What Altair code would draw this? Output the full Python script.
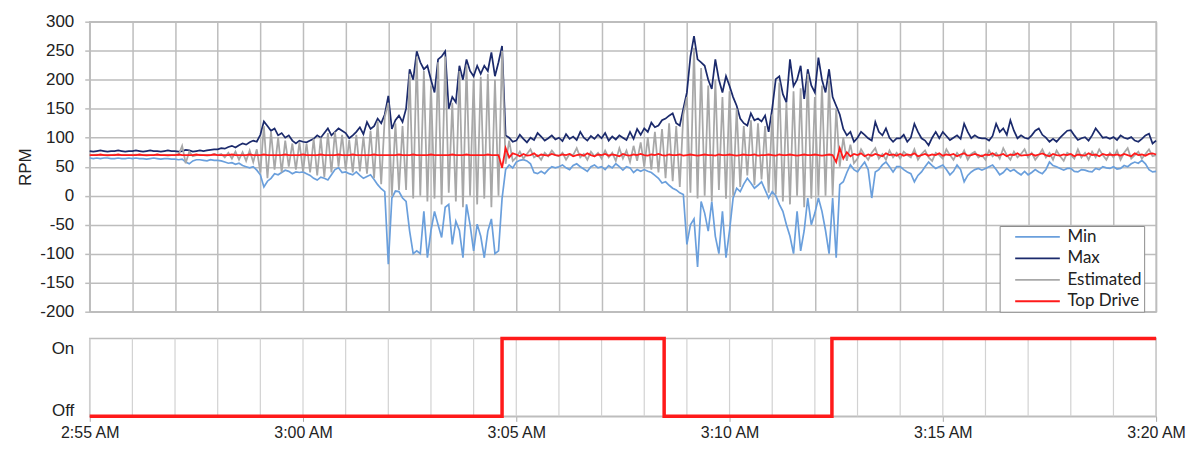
import altair as alt
import pandas as pd

# ---------------- data (5-second samples, 2:55:00 -> 3:20:00) ----------------
START = "2024-01-01 02:55:00"
END = "2024-01-01 03:20:00"

max_rpm = [
    77, 76, 77, 78, 77, 76, 77, 77, 78, 77, 76, 77,
    77, 78, 77, 76, 77, 78, 77, 77, 76, 77, 78, 77,
    77, 76, 77, 79, 78, 76, 77, 78, 77, 78, 79, 80,
    80, 82, 81, 84, 86, 83, 87, 90, 88, 92, 95, 93,
    105, 128, 120, 112, 116, 104, 108, 100, 104, 95, 90, 95,
    93, 92, 95, 98, 104, 100, 108, 116, 104, 110, 116, 112,
    108, 99, 104, 110, 118, 106, 127, 115, 120, 133, 125, 140,
    172, 115, 130, 138, 127, 150, 218, 200, 249, 230, 218, 224,
    200, 178, 235, 240, 249, 150, 170, 161, 224, 200, 235, 215,
    206, 224, 210, 224, 215, 247, 206, 230, 258, 104, 100, 93,
    95, 105, 98, 92, 100, 96, 108, 102, 95, 99, 104, 97,
    100, 94, 106, 98, 102, 96, 110, 100, 95, 103, 98, 105,
    99, 108, 95, 102, 97, 104, 100, 96, 110, 98, 115, 105,
    116, 110, 126, 118, 121, 130, 133, 138, 142, 125, 121, 150,
    178, 240, 275, 235, 230, 224, 200, 184, 235, 200, 178, 206,
    189, 170, 155, 133, 125, 121, 142, 130, 133, 128, 138, 110,
    150, 201, 206, 175, 161, 235, 189, 200, 224, 167, 218, 190,
    178, 238, 200, 178, 218, 170, 155, 140, 115, 104, 110, 93,
    100, 110, 105, 99, 95, 127, 110, 104, 116, 100, 93, 99,
    99, 105, 93, 100, 124, 110, 99, 95, 87, 100, 110, 99,
    110, 103, 96, 100, 104, 98, 124, 110, 99, 104, 100, 99,
    99, 95, 103, 124, 110, 116, 105, 130, 112, 99, 104, 100,
    98, 104, 112, 116, 105, 100, 93, 98, 93, 100, 106, 112,
    113, 104, 96, 99, 101, 95, 104, 116, 108, 100, 101, 98,
    101, 96, 104, 100, 98, 101, 95, 93, 98, 104, 107, 90,
    95,
]

min_rpm = [
    65, 64, 65, 64, 65, 65, 64, 64, 65, 64, 64, 65,
    64, 65, 64, 64, 63, 64, 65, 64, 63, 64, 64, 63,
    63, 62, 63, 58, 55, 60, 62, 62, 61, 60, 62, 61,
    61, 60, 58, 56, 57, 54, 56, 52, 50, 48, 50, 44,
    36, 15, 25, 30, 38, 36, 40, 44, 42, 38, 41, 40,
    41, 38, 35, 30, 27, 32, 30, 27, 36, 45, 48, 40,
    41, 38, 36, 41, 35, 30, 33, 36, 28, 19, 12, 7,
    -118, -4, 8, 7, -4, -10, -61, -100, -95, -100, -27, -107,
    -60, -27, -50, -72, -20, -15, -84, -44, -60, -107, -15, -50,
    -95, -49, -70, -107, -61, -40, -100, -95, -5, 45, 53, 48,
    58, 61, 62, 60, 55, 40, 38, 42, 38, 45, 50, 48,
    50, 53, 48, 45, 52, 55, 50, 46, 42, 50, 53, 48,
    50, 45, 52, 48, 55, 50, 44, 50, 48, 40, 45, 42,
    45, 42, 40, 35, 30, 22, 24, 18, 13, 10, 5, 2,
    -84, -50, -40, -123, -10, -30, -61, -10, -70, -100, -27, -107,
    -60, -4, 13, 7, 20, 30, 22, 13, 18, 24, 10, -4,
    7, 0, -15, -27, -50, -70, -100, -27, -95, -60, -4, -50,
    -30, -4, -27, -60, -100, -4, -107, 19, 24, 40, 53, 45,
    41, 50, 58, 45, -4, 41, 45, 53, 58, 50, 41, 50,
    50, 45, 41, 38, 24, 35, 41, 50, 58, 52, 47, 50,
    53, 45, 36, 42, 53, 45, 24, 35, 41, 45, 47, 44,
    47, 50, 53, 45, 36, 40, 47, 42, 45, 40, 36, 42,
    36, 40, 45, 41, 38, 45, 58, 52, 50, 47, 44, 47,
    47, 42, 41, 45, 44, 42, 41, 47, 45, 50, 48, 47,
    50, 46, 47, 52, 50, 55, 58, 56, 61, 55, 45, 41,
    42,
]

est_rpm = [
    70, 70, 71, 70, 70, 69, 70, 71, 70, 70, 70, 70,
    70, 71, 70, 70, 69, 70, 70, 71, 70, 70, 69, 70,
    70, 70, 86, 56, 76, 68, 70, 71, 70, 69, 70, 72,
    70, 72, 66, 74, 64, 76, 62, 75, 60, 78, 58, 80,
    40, 120, 30, 110, 45, 100, 40, 95, 50, 90, 45, 92,
    42, 90, 40, 98, 35, 100, 32, 108, 40, 110, 50, 105,
    45, 96, 40, 105, 42, 102, 38, 112, 30, 128, 20, 135,
    160, 0, 125, 10, 120, 10, 210, -5, 240, 0, 215, -10,
    190, -5, 230, -15, 240, 5, 160, -10, 215, -20, 225, 0,
    200, -15, 205, -5, 210, -20, 200, 0, 250, 55, 95, 60,
    66, 76, 64, 72, 80, 66, 70, 62, 74, 68, 78, 70,
    68, 74, 62, 72, 70, 82, 66, 72, 62, 76, 68, 74,
    64, 78, 66, 74, 60, 82, 64, 78, 58, 86, 60, 92,
    50, 100, 45, 110, 40, 115, 30, 125, 25, 120, 15, 140,
    170, 5, 255, -5, 220, 0, 190, -10, 200, 10, 170, -5,
    180, 0, 150, 15, 120, 35, 130, 18, 125, 28, 120, 5,
    140, 2, 195, -10, 160, -15, 180, 0, 185, -20, 210, -5,
    170, 0, 190, 0, 200, 0, 150, 50, 100, 60, 88, 56,
    64, 80, 70, 62, 74, 82, 64, 72, 62, 78, 66, 74,
    64, 76, 70, 66, 80, 62, 72, 78, 66, 60, 74, 70,
    64, 80, 70, 62, 74, 66, 78, 62, 72, 76, 66, 70,
    62, 78, 68, 74, 64, 82, 70, 62, 76, 66, 72, 80,
    66, 74, 62, 70, 80, 66, 74, 62, 78, 68, 60, 74,
    70, 64, 80, 66, 74, 62, 76, 66, 80, 70, 62, 74,
    66, 78, 62, 74, 82, 64, 70, 76, 64, 72, 80, 68,
    70,
]

top_drive_rpm = [
    70, 70, 70, 71, 70, 70, 70, 70, 71, 70, 70, 70,
    70, 70, 71, 70, 70, 70, 70, 71, 70, 70, 70, 70,
    70, 71, 70, 70, 70, 70, 71, 70, 70, 70, 70, 71,
    70, 70, 70, 70, 71, 70, 70, 70, 70, 71, 70, 70,
    70, 71, 70, 70, 70, 70, 70, 71, 70, 70, 70, 70,
    71, 70, 70, 70, 70, 71, 70, 70, 70, 70, 71, 70,
    70, 70, 71, 70, 70, 70, 70, 70, 71, 70, 70, 70,
    70, 70, 70, 71, 70, 70, 70, 71, 70, 70, 70, 70,
    71, 70, 70, 70, 70, 70, 71, 70, 70, 70, 71, 70,
    70, 70, 70, 70, 71, 70, 70, 70, 48, 82, 66, 73,
    71, 68, 72, 69, 70, 73, 68, 71, 70, 69, 72, 70,
    69, 71, 70, 72, 68, 70, 71, 69, 73, 70, 68, 71,
    70, 72, 69, 71, 70, 68, 72, 70, 69, 71, 70, 72,
    70, 69, 71, 70, 72, 70, 69, 71, 70, 70, 71, 69,
    70, 71, 70, 69, 70, 71, 70, 70, 69, 71, 70, 70,
    71, 70, 69, 70, 71, 70, 70, 71, 69, 70, 70, 71,
    70, 69, 71, 70, 70, 71, 70, 69, 70, 71, 70, 70,
    71, 70, 69, 70, 71, 70, 58, 82, 64, 75, 68, 72,
    70, 73, 68, 71, 69, 72, 70, 68, 73, 70, 71, 69,
    72, 69, 71, 70, 73, 68, 70, 72, 69, 71, 70, 73,
    69, 71, 70, 72, 68, 71, 73, 69, 70, 72, 70, 68,
    71, 70, 73, 69, 70, 72, 68, 71, 70, 73, 69, 70,
    70, 72, 69, 71, 73, 70, 68, 72, 70, 69, 71, 70,
    72, 68, 71, 70, 69, 73, 70, 71, 68, 72, 70, 71,
    70, 71, 69, 72, 70, 68, 73, 70, 71, 69, 72, 73,
    71,
]

series_names = ["Min", "Max", "Estimated", "Top Drive"]
series_colors = ["#6a9fdc", "#1b2a6c", "#a8a8a8", "#ff1a1a"]
series_widths = [1.7, 1.8, 2.8, 2.0]

state_times = ["2024-01-01 02:55:00", "2024-01-01 03:04:40",
               "2024-01-01 03:08:28", "2024-01-01 03:12:24",
               "2024-01-01 03:20:00"]
state_values = [0, 1, 0, 1, 1]
state_labels = ["Off", "On"]

# ---------------- tables ----------------
times = pd.date_range(START, END, freq="5s")
for arr in (max_rpm, min_rpm, est_rpm, top_drive_rpm):
    assert len(arr) == len(times), len(arr)

frames = []
for name, vals in zip(series_names, [min_rpm, max_rpm, est_rpm, top_drive_rpm]):
    frames.append(pd.DataFrame({"time": times.strftime("%Y-%m-%dT%H:%M:%S"),
                                "series": name, "rpm": vals}))
df = pd.concat(frames, ignore_index=True)

state_df = pd.DataFrame({"time": [t.replace(" ", "T") for t in state_times],
                         "state": state_values})

minute_df = pd.DataFrame({"time": pd.date_range(START, END, freq="1min")
                          .strftime("%Y-%m-%dT%H:%M:%S")})

# ---------------- styling ----------------
FONT = "Liberation Sans"
GRID = "#bdbdbd"
W = 1070


def dt(h, m):
    return alt.DateTime(year=2024, month=1, date=1, hours=h, minutes=m)


minute_ticks = [dt(2 + (55 + k) // 60, (55 + k) % 60) for k in range(26)]
five_ticks = [dt(2 + (55 + k) // 60, (55 + k) % 60) for k in range(0, 26, 5)]
x_scale = alt.Scale(domain=[dt(2, 55), dt(3, 20)], nice=False)

top = alt.Chart(df).mark_line().encode(
    x=alt.X("time:T", scale=x_scale,
            axis=alt.Axis(title=None, labels=False, ticks=False, domain=False,
                          grid=True, gridColor=GRID, gridWidth=1.5,
                          values=minute_ticks)),
    y=alt.Y("rpm:Q", scale=alt.Scale(domain=[-200, 300], nice=False),
            axis=alt.Axis(title="RPM", values=list(range(-200, 301, 50)),
                          labelExpr="'' + datum.value",
                          grid=True, gridColor=GRID, gridWidth=1.5,
                          domain=False, tickColor=GRID, tickWidth=1.5, tickSize=5,
                          labelPadding=11, titlePadding=5)),
    color=alt.Color("series:N",
                    scale=alt.Scale(domain=series_names, range=series_colors),
                    legend=alt.Legend(title=None, orient="none", legendX=913, legendY=205,
                                      direction="vertical", symbolType="M-2.8,0H2.8",
                                      symbolSize=256, symbolStrokeWidth=2,
                                      labelFont="Lato", labelFontSize=17,
                                      labelColor="#222", fillColor="white",
                                      strokeColor="#8c8c8c", padding=2,
                                      symbolOffset=27, labelOffset=21, rowPadding=4.5)),
    strokeWidth=alt.StrokeWidth("series:N",
                                scale=alt.Scale(domain=series_names, range=series_widths),
                                legend=None),
).properties(width=W, height=291)

label_expr = ("datum.value > 0.5 ? '%s' : '%s'" % (state_labels[1], state_labels[0]))

minute_grid = alt.Chart(minute_df).mark_rule(color="#d2d2d2", strokeWidth=1.2).encode(
    x=alt.X("time:T", scale=x_scale)
)

state_line = alt.Chart(state_df).mark_line(interpolate="step-after", color="#ff1a1a",
                                           strokeWidth=3.5).encode(
    x=alt.X("time:T", scale=x_scale,
            axis=alt.Axis(title=None, grid=False,
                          values=five_ticks, labelOverlap=False, labelFlush=False,
                          format="%-I:%M %p",
                          domainColor=GRID, domainWidth=1.5, tickColor="#a8a8a8", tickSize=5,
                          labelPadding=3, labelFontSize=16)),
    y=alt.Y("state:Q", scale=alt.Scale(domain=[0, 1], nice=False),
            axis=alt.Axis(title=None, values=[0.07, 0.87], labelExpr=label_expr, grid=False,
                          ticks=False, domain=False, labelPadding=16)),
)

bottom = alt.layer(minute_grid, state_line).properties(width=W, height=78)

chart = alt.vconcat(top, bottom, spacing=10).properties(
    padding={"left": 8, "top": 3, "right": 0, "bottom": 0}
).configure_view(
    stroke=GRID, strokeWidth=1.5
).configure_axis(
    labelFont=FONT, titleFont=FONT, labelFontSize=17, titleFontSize=17,
    labelColor="#222", titleColor="#222", titleFontWeight="normal"
)

chart.save("out.html", embed_options={"renderer": "svg", "actions": False})
